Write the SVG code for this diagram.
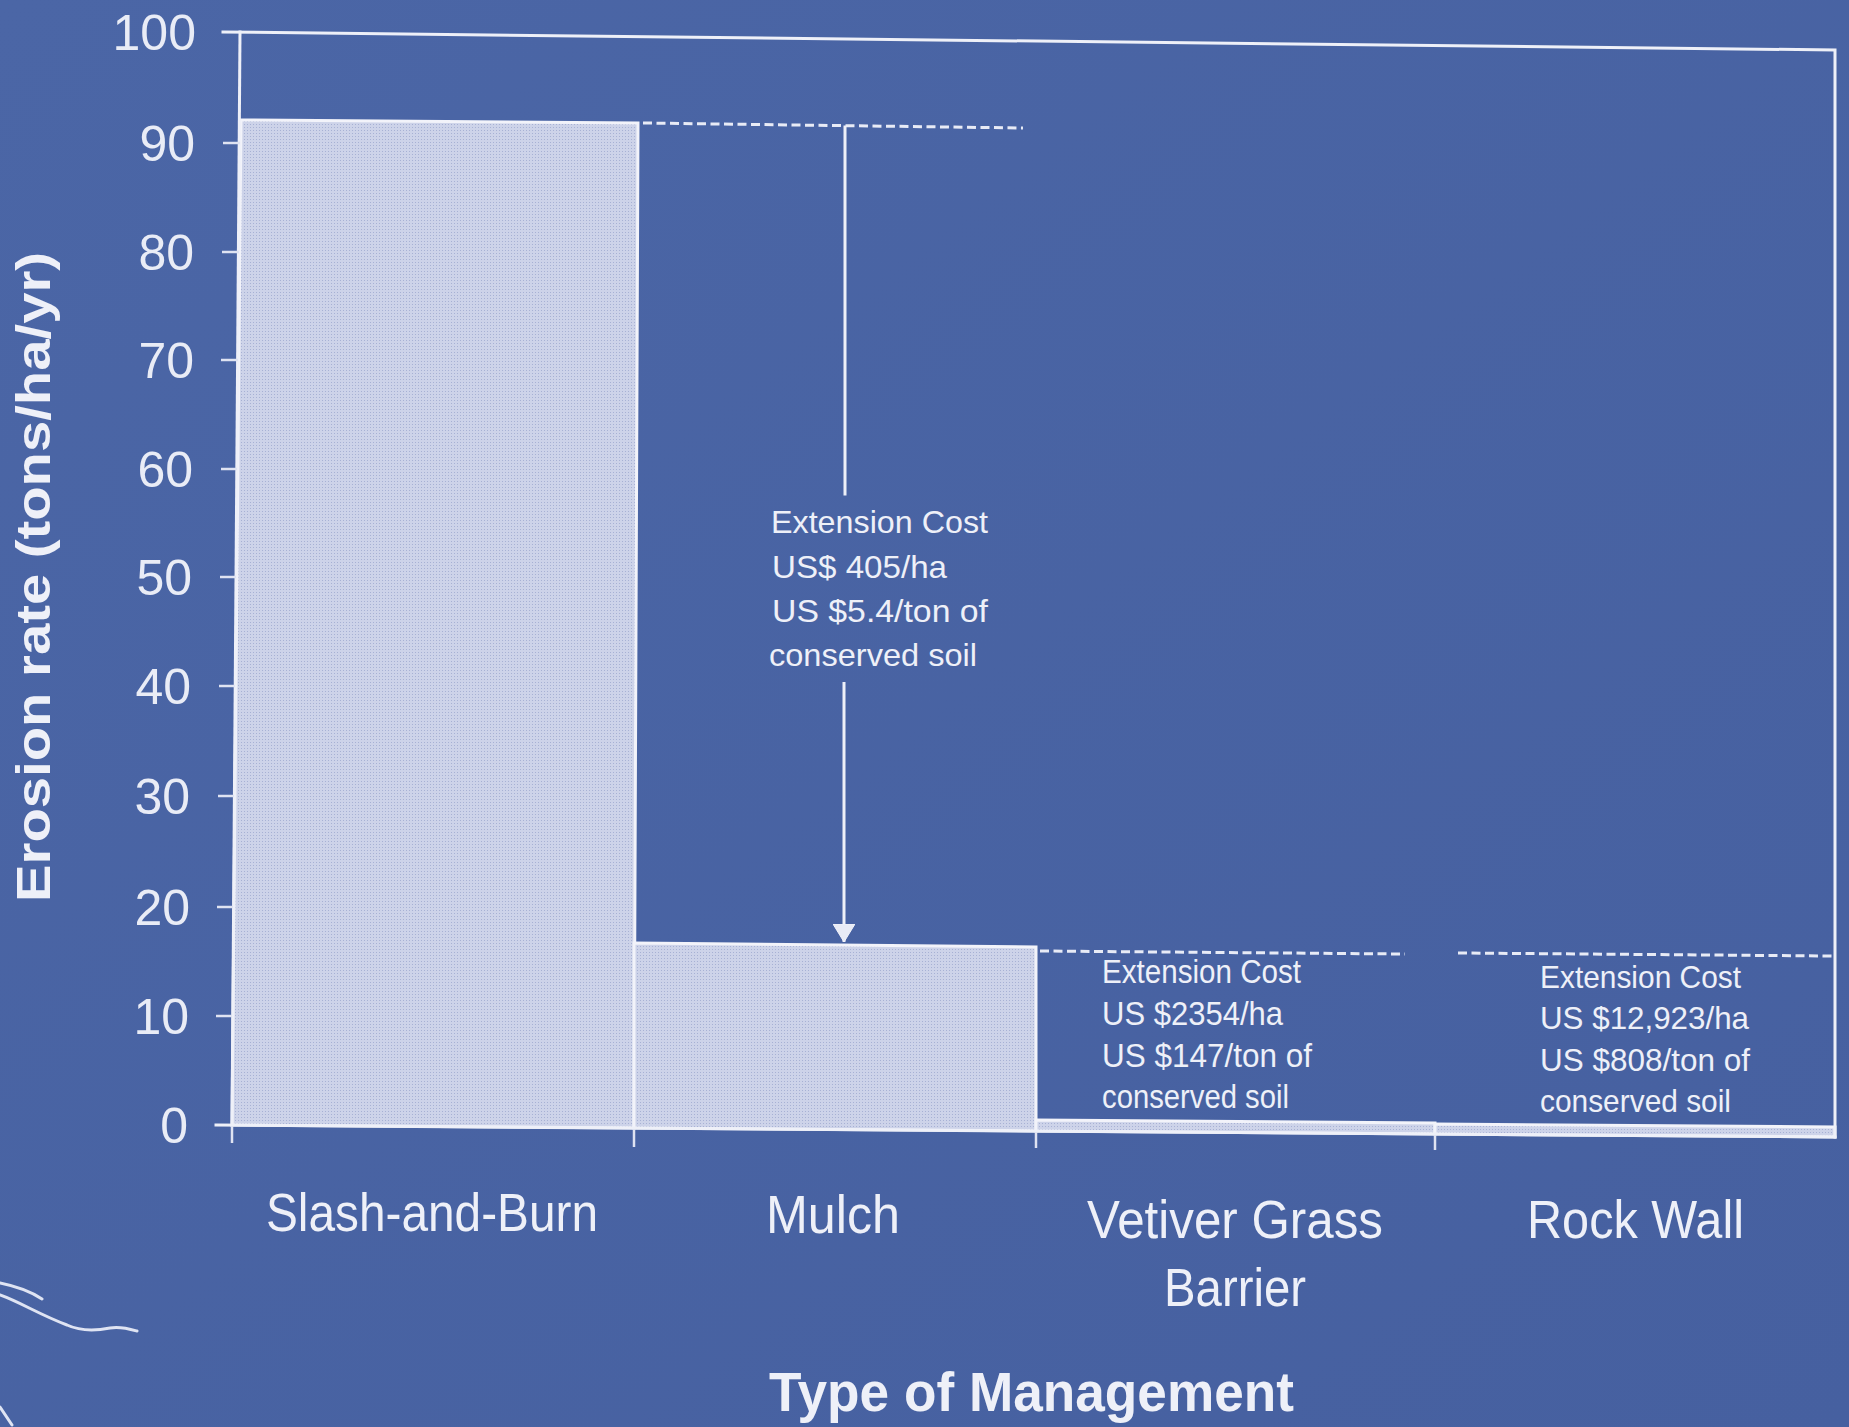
<svg xmlns="http://www.w3.org/2000/svg" width="1849" height="1427" viewBox="0 0 1849 1427">
<defs>
<linearGradient id="bg" x1="0" y1="0" x2="1" y2="1">
<stop offset="0" stop-color="#4b66a6"/>
<stop offset="1" stop-color="#4660a0"/>
</linearGradient>
<pattern id="dots" width="3" height="3" patternUnits="userSpaceOnUse">
<rect width="3" height="3" fill="#cdd3e9"/>
<rect x="1" y="1" width="1" height="1" fill="#a7b1d4"/>
</pattern>
<marker id="arrow" viewBox="0 0 19 22" refX="18" refY="11" markerWidth="19" markerHeight="22" markerUnits="userSpaceOnUse" orient="auto">
<path d="M0,0 L18,11 L0,22 Z" fill="#e8ebf6" stroke="#f2f3fa" stroke-width="1"/>
</marker>
<style>
.ln{stroke:#eef0f8;stroke-width:3;fill:none;stroke-linecap:square}
.tk{stroke:#dfe3f2;stroke-width:2.5;fill:none}
.dash{stroke:#e8ebf6;stroke-width:3;fill:none;stroke-dasharray:9 4.5}
.bar{fill:url(#dots);stroke:#f2f3fa;stroke-width:3}
.ylab{font-family:"Liberation Sans",Arial,sans-serif;font-size:50px;fill:#e9ecf6;text-anchor:end}
.cat{font-family:"Liberation Sans",Arial,sans-serif;font-size:54px;fill:#eef0f8}
.wide{font-family:"Liberation Sans",Arial,sans-serif;font-size:32px;fill:#eef0f8}
.cond{font-family:"Liberation Sans",Arial,sans-serif;font-size:33px;fill:#eef0f8}
.title{font-family:"Liberation Sans",Arial,sans-serif;font-weight:bold;fill:#eef0f8}
.scr{stroke:#dfe4f3;stroke-width:3;fill:none;stroke-linecap:round}
</style>
</defs>
<rect width="1849" height="1427" fill="url(#bg)"/>

<g id="bar-slash-and-burn">
<polygon class="bar" points="241,120 638,123 634,1128 232,1125"/>
</g>
<g id="bar-mulch">
<polygon class="bar" points="634,943 1036,947 1036,1131 634,1128"/>
</g>
<g id="bar-vetiver">
<polygon class="bar" points="1036,1120 1435,1123 1435,1134 1036,1131"/>
</g>
<g id="bar-rock-wall">
<polygon class="bar" points="1435,1124 1835,1127 1835,1137 1435,1134"/>
</g>

<g id="axes">
<polyline class="ln" points="223,32 1835,50 1835,1137"/>
<line class="ln" x1="240" y1="32" x2="232" y2="1125"/>
<line class="ln" x1="216" y1="1125" x2="1835" y2="1137"/>
<g class="tk">
<line x1="223" y1="143" x2="240" y2="143"/>
<line x1="222" y1="252" x2="239" y2="252"/>
<line x1="221" y1="360" x2="238" y2="360"/>
<line x1="221" y1="469" x2="237" y2="469"/>
<line x1="220" y1="577" x2="236" y2="577"/>
<line x1="219" y1="686" x2="235" y2="686"/>
<line x1="218" y1="796" x2="234" y2="796"/>
<line x1="217" y1="907" x2="233" y2="907"/>
<line x1="216" y1="1016" x2="232" y2="1016"/>
<line x1="232" y1="1126" x2="232" y2="1143"/>
<line x1="634" y1="1129" x2="634" y2="1147"/>
<line x1="1036" y1="1132" x2="1036" y2="1148"/>
<line x1="1435" y1="1135" x2="1435" y2="1150"/>
</g>
<g>
<text class="ylab" x="196" y="50">100</text>
<text class="ylab" x="195" y="161">90</text>
<text class="ylab" x="194" y="270">80</text>
<text class="ylab" x="194" y="378">70</text>
<text class="ylab" x="193" y="487">60</text>
<text class="ylab" x="192" y="595">50</text>
<text class="ylab" x="191" y="704">40</text>
<text class="ylab" x="190" y="814">30</text>
<text class="ylab" x="190" y="925">20</text>
<text class="ylab" x="189" y="1034">10</text>
<text class="ylab" x="188" y="1143">0</text>
</g>
<text class="title" font-size="48" transform="translate(50,577) rotate(-90)" text-anchor="middle" textLength="650" lengthAdjust="spacingAndGlyphs">Erosion rate (tons/ha/yr)</text>
<text class="title" font-size="56" x="769" y="1411" textLength="525" lengthAdjust="spacingAndGlyphs">Type of Management</text>
</g>

<g id="label-slash-and-burn"><text class="cat" x="266" y="1231" textLength="332" lengthAdjust="spacingAndGlyphs">Slash-and-Burn</text></g>
<g id="label-mulch"><text class="cat" x="766" y="1233" textLength="134" lengthAdjust="spacingAndGlyphs">Mulch</text></g>
<g id="label-vetiver">
<text class="cat" x="1087" y="1238" textLength="296" lengthAdjust="spacingAndGlyphs">Vetiver Grass</text>
<text class="cat" x="1164" y="1306" textLength="142" lengthAdjust="spacingAndGlyphs">Barrier</text>
</g>
<g id="label-rock-wall"><text class="cat" x="1527" y="1238" textLength="217" lengthAdjust="spacingAndGlyphs">Rock Wall</text></g>

<g id="note-mulch">
<text class="wide" x="771" y="533" textLength="217" lengthAdjust="spacingAndGlyphs">Extension Cost</text>
<text class="wide" x="772" y="578" textLength="175" lengthAdjust="spacingAndGlyphs">US$ 405/ha</text>
<text class="wide" x="772" y="622" textLength="216" lengthAdjust="spacingAndGlyphs">US $5.4/ton of</text>
<text class="wide" x="769" y="666" textLength="208" lengthAdjust="spacingAndGlyphs">conserved soil</text>
</g>
<g id="note-vetiver">
<text class="cond" x="1102" y="983" textLength="199" lengthAdjust="spacingAndGlyphs">Extension Cost</text>
<text class="cond" x="1102" y="1025" textLength="181" lengthAdjust="spacingAndGlyphs">US $2354/ha</text>
<text class="cond" x="1102" y="1067" textLength="210" lengthAdjust="spacingAndGlyphs">US $147/ton of</text>
<text class="cond" x="1102" y="1108" textLength="187" lengthAdjust="spacingAndGlyphs">conserved soil</text>
</g>
<g id="note-rock-wall">
<text class="wide" x="1540" y="988" textLength="201" lengthAdjust="spacingAndGlyphs">Extension Cost</text>
<text class="wide" x="1540" y="1029" textLength="209" lengthAdjust="spacingAndGlyphs">US $12,923/ha</text>
<text class="wide" x="1540" y="1071" textLength="210" lengthAdjust="spacingAndGlyphs">US $808/ton of</text>
<text class="wide" x="1540" y="1112" textLength="191" lengthAdjust="spacingAndGlyphs">conserved soil</text>
</g>

<g id="connectors">
<line class="dash" x1="643" y1="123" x2="1023" y2="128"/>
<line class="dash" x1="1040" y1="951" x2="1405" y2="954"/>
<line class="dash" x1="1458" y1="953" x2="1833" y2="956"/>
<line class="ln" x1="845" y1="127" x2="845" y2="494"/>
<line x1="844" y1="682" x2="844" y2="942" stroke="#eef0f8" stroke-width="3" marker-end="url(#arrow)"/>
</g>

<g id="scratches">
<path class="scr" d="M0,1283 C15,1286 30,1291 42,1299"/>
<path class="scr" d="M0,1295 C20,1302 40,1315 67,1325 C80,1331 95,1331 110,1328 C120,1326 130,1329 137,1331"/>
<path class="scr" d="M0,1407 L12,1425"/>
</g>
</svg>
